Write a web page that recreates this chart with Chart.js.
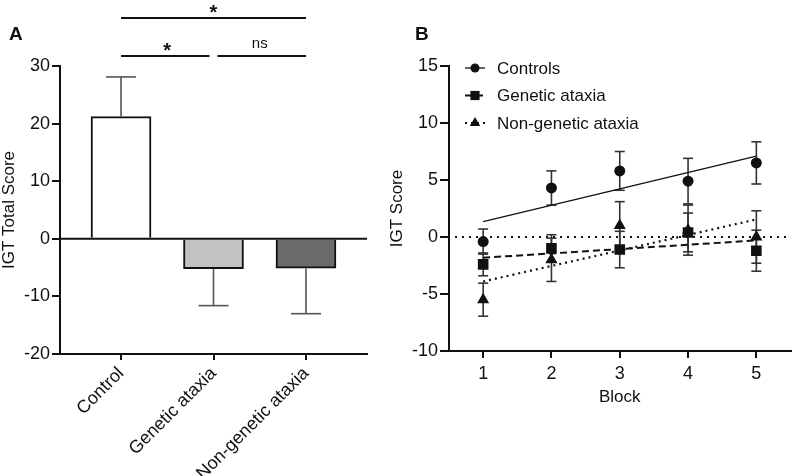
<!DOCTYPE html>
<html>
<head>
<meta charset="utf-8">
<script src="https://cdn.jsdelivr.net/npm/chart.js@4.4.1/dist/chart.umd.min.js"></script>
<style>
  html, body { margin: 0; padding: 0; background: #fff; }
  #wrap { position: relative; width: 798px; height: 476px; }
  canvas { position: absolute; top: 0; }
  #panelA { left: 0; }
  #panelB { left: 380px; }
</style>
</head>
<body>
<div id="wrap">
  <canvas id="panelA" width="380" height="476"></canvas>
  <canvas id="panelB" width="418" height="476"></canvas>
</div>
<script>
// panel A: total score per group (mean, one-sided error bar)
const groupLabels = ['Control', 'Genetic ataxia', 'Non-genetic ataxia'];
const totalScore = [21.2, -5.2, -5.1];
const totalScoreErr = [6.9, 6.4, 7.9];
const totalTicks = [-20, -10, 0, 10, 20, 30];

// significance brackets between groups
const sigFrom = [0, 1, 0];
const sigTo = [1, 2, 2];
const sigText = ['*', 'ns', '*'];

// panel B: score per block
const blocks = [1, 2, 3, 4, 5];
const controlsScore = [-0.4, 4.3, 5.8, 4.9, 6.5];
const controlsErr = [1.1, 1.5, 1.7, 2.0, 1.85];
const geneticScore = [-2.4, -1.0, -1.1, 0.4, -1.2];
const geneticErr = [1.0, 1.2, 1.6, 1.7, 1.8];
const nonGeneticScore = [-5.5, -2.0, 1.0, 0.6, 0.0];
const nonGeneticErr = [1.45, 1.9, 2.1, 2.2, 2.3];
const seriesNames = ['Controls', 'Genetic ataxia', 'Non-genetic ataxia'];
const blockScoreTicks = [-10, -5, 0, 5, 10, 15];

const ink = '#111';
const FONT = "'Liberation Sans', Arial, Helvetica, sans-serif";
Chart.defaults.font.family = FONT;
Chart.defaults.font.size = 17;
Chart.defaults.color = ink;
Chart.defaults.animation = false;

function panelLetter(letter, x) {
    return {
        id: 'panelLetter',
        afterDraw(chart) {
            const ctx = chart.ctx;
            ctx.save();
            ctx.font = 'bold 19px ' + FONT;
            ctx.fillStyle = ink;
            ctx.fillText(letter, x, 40);
            ctx.restore();
        }
    };
}

function line(ctx, x1, y1, x2, y2) {
    ctx.beginPath();
    ctx.moveTo(x1, y1);
    ctx.lineTo(x2, y2);
    ctx.stroke();
}

// ---------- panel A ----------
const barExtras = {
    id: 'barExtras',
    afterDatasetsDraw(chart) {
        const ctx = chart.ctx;
        const xs = chart.scales.x, ys = chart.scales.y;
        const area = chart.chartArea;
        ctx.save();
        // zero line
        ctx.strokeStyle = ink;
        ctx.lineWidth = 2;
        line(ctx, area.left, ys.getPixelForValue(0), area.right, ys.getPixelForValue(0));
        // one-sided error bars
        ctx.strokeStyle = '#555';
        ctx.lineWidth = 1.6;
        totalScore.forEach((v, i) => {
            const x = xs.getPixelForValue(i);
            const y0 = ys.getPixelForValue(v);
            const y1 = ys.getPixelForValue(v + Math.sign(v) * totalScoreErr[i]);
            line(ctx, x, y0, x, y1);
            line(ctx, x - 15, y1, x + 15, y1);
        });
        ctx.restore();
    },
    afterDraw(chart) {
        const ctx = chart.ctx;
        const xs = chart.scales.x;
        const top = chart.chartArea.top;
        ctx.save();
        ctx.strokeStyle = ink;
        ctx.fillStyle = ink;
        ctx.lineWidth = 2;
        ctx.textAlign = 'center';
        sigText.forEach((t, i) => {
            const row = sigTo[i] - sigFrom[i] > 1 ? 1 : 0;
            const y = top - 10 - row * 38;
            let x1 = xs.getPixelForValue(sigFrom[i]);
            let x2 = xs.getPixelForValue(sigTo[i]);
            if (row === 0) {
                if (sigFrom[i] > 0) x1 += 4;
                if (sigTo[i] < groupLabels.length - 1) x2 -= 4;
            }
            line(ctx, x1, y, x2, y);
            const cx = (xs.getPixelForValue(sigFrom[i]) + xs.getPixelForValue(sigTo[i])) / 2;
            if (t === '*') {
                ctx.font = 'bold 20px ' + FONT;
                ctx.fillText(t, cx, y + 1);
            } else {
                ctx.font = '15px ' + FONT;
                ctx.fillText(t, cx, y - 8);
            }
        });
        ctx.restore();
    }
};

new Chart(document.getElementById('panelA'), {
    type: 'bar',
    data: {
        datasets: [{
            data: totalScore.map((y, i) => ({ x: i, y: y })),
            backgroundColor: ['#ffffff', '#c2c2c2', '#6b6b6b'],
            borderColor: ink,
            borderWidth: 2,
            barThickness: 60
        }]
    },
    options: {
        responsive: false,
        layout: { padding: { top: 66, right: 13, left: 0, bottom: 0 } },
        plugins: { legend: { display: false }, tooltip: { enabled: false } },
        scales: {
            x: {
                type: 'linear',
                offset: false,
                min: -0.66,
                max: 2.66,
                afterBuildTicks: s => { s.ticks = groupLabels.map((_, i) => ({ value: i })); },
                afterFit: s => { s.height = 122; },
                ticks: {
                    callback: v => groupLabels[v],
                    minRotation: 45,
                    maxRotation: 45,
                    padding: 3,
                    font: { size: 18 }
                },
                grid: { offset: false, drawOnChartArea: false, color: ink, lineWidth: 2, tickLength: 6 },
                border: { color: ink, width: 2 }
            },
            y: {
                min: -20,
                max: 30,
                afterBuildTicks: s => { s.ticks = totalTicks.map(v => ({ value: v })); },
                afterFit: s => { s.width = 60; },
                ticks: { padding: 2, font: { size: 18 } },
                grid: { drawOnChartArea: false, color: ink, lineWidth: 2, tickLength: 8 },
                border: { color: ink, width: 2 },
                title: { display: true, text: 'IGT Total Score', font: { size: 17, lineHeight: 1 }, padding: { top: 0.5, bottom: 0 } }
            }
        }
    },
    plugins: [barExtras, panelLetter('A', 9)]
});

// ---------- panel B ----------
function fitLine(ys) {
    const n = blocks.length;
    const mx = blocks.reduce((a, b) => a + b, 0) / n;
    const my = ys.reduce((a, b) => a + b, 0) / n;
    let sxy = 0, sxx = 0;
    blocks.forEach((x, i) => { sxy += (x - mx) * (ys[i] - my); sxx += (x - mx) * (x - mx); });
    const slope = sxy / sxx;
    const icpt = my - slope * mx;
    return [blocks[0], blocks[n - 1]].map(x => ({ x: x, y: icpt + slope * x }));
}

const pointSets = [
    { label: seriesNames[0], scores: controlsScore, errs: controlsErr, style: 'circle', radius: 5.5, dash: [], width: 1.3 },
    { label: seriesNames[1], scores: geneticScore, errs: geneticErr, style: 'rect', radius: 7.5, dash: [7, 4], width: 2 },
    { label: seriesNames[2], scores: nonGeneticScore, errs: nonGeneticErr, style: 'triangle', radius: 7, dash: [2, 4], width: 2.2 }
];

const blockExtras = {
    id: 'blockExtras',
    beforeDatasetsDraw(chart) {
        const ctx = chart.ctx;
        const xs = chart.scales.x, ys = chart.scales.y;
        const area = chart.chartArea;
        ctx.save();
        // dotted zero line
        ctx.strokeStyle = ink;
        ctx.lineWidth = 2.2;
        ctx.setLineDash([2, 5]);
        line(ctx, area.left + 6, ys.getPixelForValue(0), area.right, ys.getPixelForValue(0));
        ctx.setLineDash([]);
        // symmetric error bars
        ctx.strokeStyle = '#333';
        ctx.lineWidth = 1.6;
        pointSets.forEach(set => {
            blocks.forEach((b, i) => {
                const x = xs.getPixelForValue(b);
                const y1 = ys.getPixelForValue(set.scores[i] + set.errs[i]);
                const y2 = ys.getPixelForValue(set.scores[i] - set.errs[i]);
                line(ctx, x, y1, x, y2);
                line(ctx, x - 5, y1, x + 5, y1);
                line(ctx, x - 5, y2, x + 5, y2);
            });
        });
        ctx.restore();
    },
    afterDraw(chart) {
        const ctx = chart.ctx;
        const area = chart.chartArea;
        const mx = area.left + 26;
        ctx.save();
        ctx.font = '17px ' + FONT;
        ctx.textBaseline = 'middle';
        pointSets.forEach((set, i) => {
            const y = area.top + 2 + i * 27.5;
            ctx.strokeStyle = ink;
            ctx.lineWidth = set.width;
            ctx.setLineDash(set.dash);
            line(ctx, mx - 10, y, mx + 10, y);
            ctx.setLineDash([]);
            ctx.fillStyle = ink;
            Chart.helpers.drawPoint(ctx, { pointStyle: set.style, radius: set.radius - 1, rotation: 0, borderWidth: 0 }, mx, y);
            ctx.fillText(set.label, mx + 22, y + 1);
        });
        ctx.restore();
    }
};

const blockDatasets = pointSets.map(set => ({
    label: set.label,
    data: blocks.map((b, i) => ({ x: b, y: set.scores[i] })),
    pointStyle: set.style,
    pointRadius: set.radius,
    pointBackgroundColor: ink,
    pointBorderColor: ink,
    pointBorderWidth: 0,
    showLine: false
})).concat(pointSets.map(set => ({
    label: set.label + ' fit',
    data: fitLine(set.scores),
    showLine: true,
    pointRadius: 0,
    borderColor: ink,
    borderWidth: set.width,
    borderDash: set.dash
})));

new Chart(document.getElementById('panelB'), {
    type: 'scatter',
    data: { datasets: blockDatasets },
    options: {
        responsive: false,
        layout: { padding: { top: 66, right: 5, left: 0, bottom: 66 } },
        plugins: { legend: { display: false }, tooltip: { enabled: false } },
        scales: {
            x: {
                type: 'linear',
                min: 0.5,
                max: 5.5,
                afterBuildTicks: s => { s.ticks = blocks.map(v => ({ value: v })); },
                afterFit: s => { s.height = 59; },
                ticks: { padding: 5, font: { size: 18 } },
                grid: { drawOnChartArea: false, color: ink, lineWidth: 2, tickLength: 7 },
                border: { color: ink, width: 2 },
                title: { display: true, text: 'Block', font: { size: 17 }, padding: { top: 0, bottom: 2 } }
            },
            y: {
                min: -10,
                max: 15,
                afterBuildTicks: s => { s.ticks = blockScoreTicks.map(v => ({ value: v })); },
                afterFit: s => { s.width = 69; },
                ticks: { padding: 2, font: { size: 18 } },
                grid: { drawOnChartArea: false, color: ink, lineWidth: 2, tickLength: 9 },
                border: { color: ink, width: 2 },
                title: { display: true, text: 'IGT Score', font: { size: 17 }, padding: { top: 7, bottom: 0 } }
            }
        }
    },
    plugins: [blockExtras, panelLetter('B', 35)]
});
</script>
</body>
</html>
